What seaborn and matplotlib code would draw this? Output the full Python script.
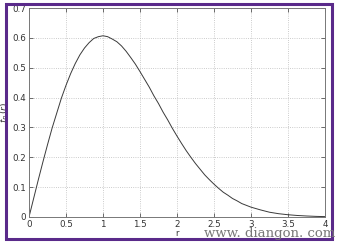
import matplotlib
matplotlib.use("Agg")
import matplotlib.pyplot as plt
import seaborn as sns
import pandas as pd
from matplotlib.patches import Rectangle

r_vals = [0.0, 0.0625, 0.125, 0.1875, 0.25, 0.3125, 0.375, 0.4375, 0.5, 0.5625, 0.625,
          0.6875, 0.75, 0.8125, 0.875, 0.9375, 1.0, 1.0625, 1.125, 1.1875, 1.25, 1.3125,
          1.375, 1.4375, 1.5, 1.5625, 1.625, 1.6875, 1.75, 1.8125, 1.875, 1.9375, 2.0,
          2.0625, 2.125, 2.1875, 2.25, 2.3125, 2.375, 2.4375, 2.5, 2.5625, 2.625, 2.6875,
          2.75, 2.8125, 2.875, 2.9375, 3.0, 3.125, 3.25, 3.375, 3.5, 3.625, 3.75, 3.875, 4.0]
f_vals = [0.0, 0.062, 0.124, 0.184, 0.242, 0.298, 0.348, 0.398, 0.441, 0.480, 0.514,
          0.543, 0.566, 0.584, 0.598, 0.604, 0.607, 0.604, 0.596, 0.587, 0.573, 0.555,
          0.534, 0.512, 0.487, 0.461, 0.435, 0.406, 0.380, 0.351, 0.325, 0.297, 0.271,
          0.246, 0.222, 0.200, 0.179, 0.160, 0.141, 0.125, 0.110, 0.096, 0.083, 0.073,
          0.062, 0.054, 0.045, 0.039, 0.033, 0.024, 0.016, 0.011, 0.0076, 0.0051, 0.0034,
          0.0021, 0.0013]
x_ticks = [0, 0.5, 1, 1.5, 2, 2.5, 3, 3.5, 4]
x_tick_labels = ["0", "0.5", "1", "1.5", "2", "2.5", "3", "3.5", "4"]
y_ticks = [0, 0.1, 0.2, 0.3, 0.4, 0.5, 0.6, 0.7]
y_tick_labels = ["0", "0.1", "0.2", "0.3", "0.4", "0.5", "0.6", "0.7"]

df = pd.DataFrame({"r": r_vals, "f": f_vals})

sns.set_style("ticks")
fig = plt.figure(figsize=(3.37, 2.45), dpi=100)
ax = fig.add_axes([29/337, 1-217/245, 296/337, 209/245])

sns.lineplot(data=df, x="r", y="f", ax=ax, color="#3a3a3a", linewidth=0.7)

ax.set_xlim(0, 4)
ax.set_ylim(0, 0.7)
ax.set_xticks(x_ticks)
ax.set_xticklabels(x_tick_labels)
ax.set_yticks(y_ticks)
ax.set_yticklabels(y_tick_labels)
ax.tick_params(direction="in", length=3, labelsize=6.3, colors="#555555",
               labelcolor="#333333", width=0.6, pad=2, top=True, right=True)
ax.grid(True, linestyle=":", color="#bbbbbb", linewidth=0.6)
for s in ax.spines.values():
    s.set_color("#777777")
    s.set_linewidth(0.7)
ax.set_xlabel("r", fontsize=6, labelpad=0, color="#333333")
ax.set_ylabel("$f_R\\,(r)$", fontsize=6.5, color="#333333")
ax.yaxis.set_label_coords((11 - 29) / 296, (217 - 112) / 209)

# purple frame
fig.patches.append(Rectangle((6/337, 1-239/245), 326/337, 235/245,
                             transform=fig.transFigure, fill=False,
                             edgecolor="#5a2a8a", linewidth=2.2))

fig.text(335/337, 1-233/245, "www. diangon. com", ha="right", va="center",
         fontsize=9.5, family="DejaVu Serif", color="#777777")

fig.savefig("out.png", dpi=100)
